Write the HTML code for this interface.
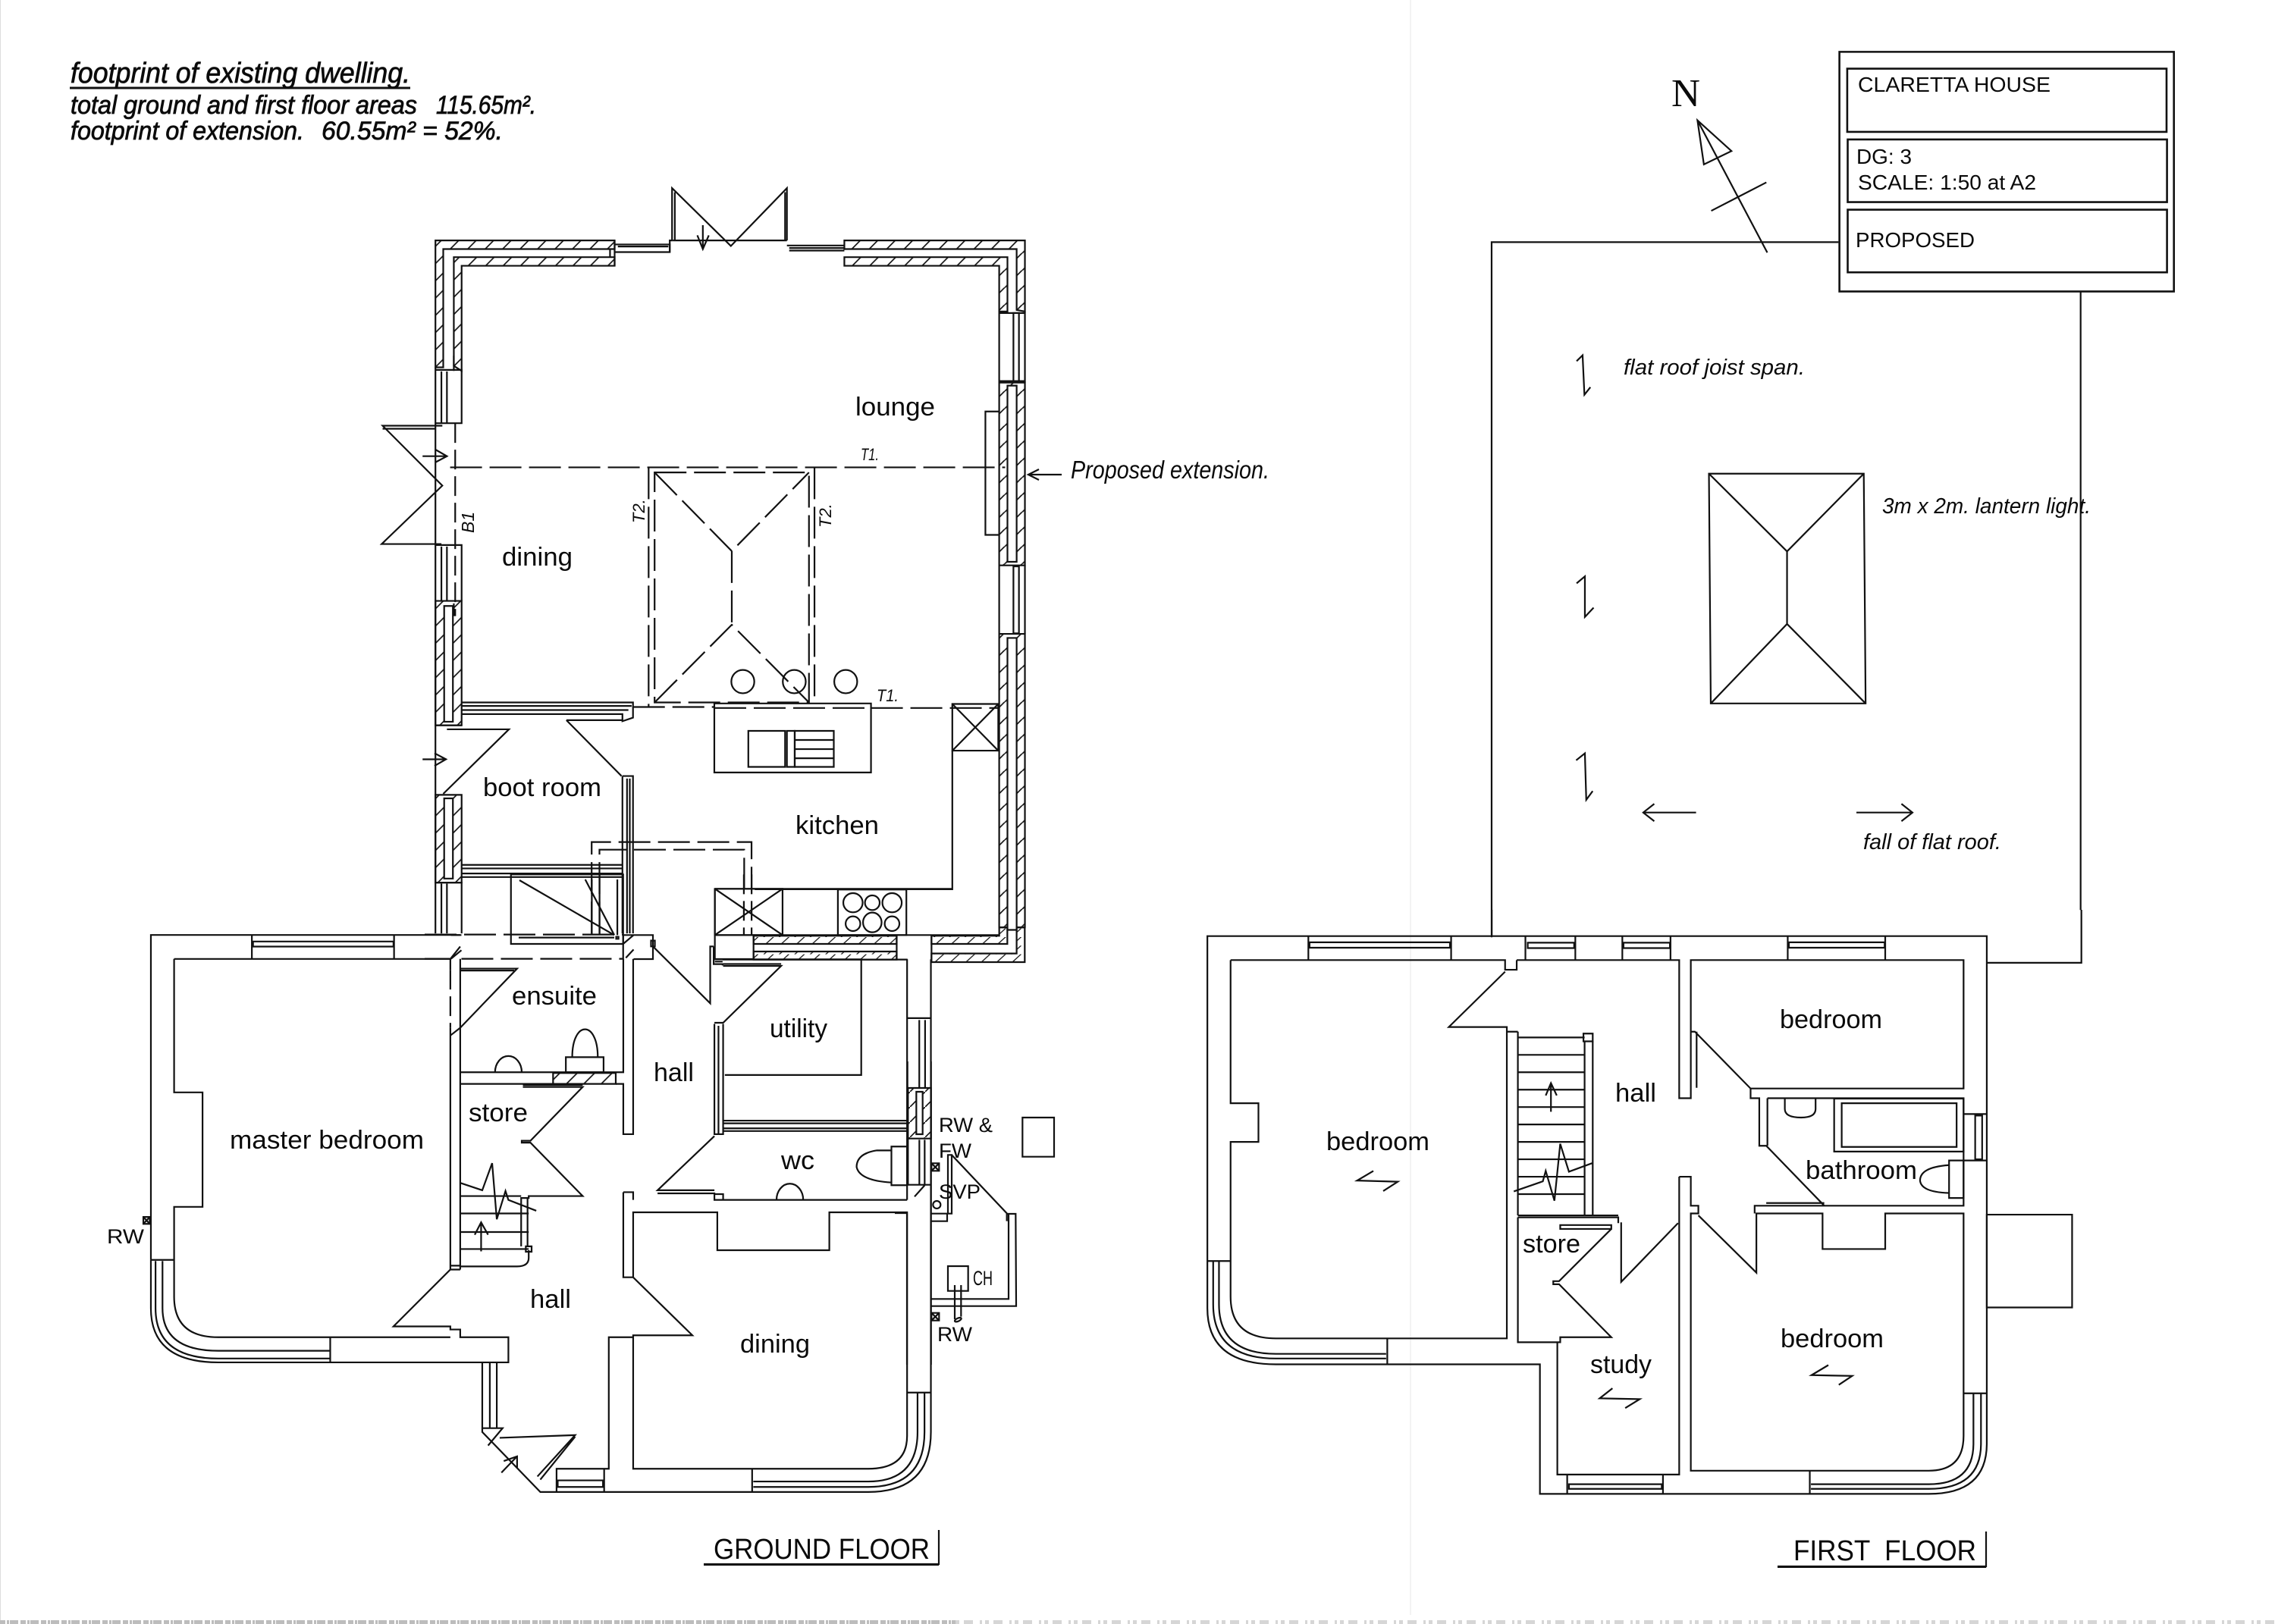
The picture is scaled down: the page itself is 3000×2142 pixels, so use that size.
<!DOCTYPE html>
<html><head><meta charset="utf-8"><title>Claretta House proposed plans</title>
<style>
html,body{margin:0;padding:0;background:#fff}
svg{display:block}
.d{fill:none;stroke:#111;stroke-width:2.2;stroke-linejoin:miter}
.d *{vector-effect:non-scaling-stroke}
.k{stroke-dasharray:26 9}
.k2{stroke-dasharray:42 10}
.wf{fill:#fff}
.hf1{fill:url(#h1)}
.hf6{fill:url(#h6)}
.hf2{fill:url(#h2)}
.hf8{fill:url(#h8)}
text{font-family:"Liberation Sans",sans-serif;fill:#0a0a0a;white-space:pre}
.r{font-size:34px}
.s{font-size:27px}
.t{font-size:28px}
.f{font-size:38px}
.hw{font-family:"Liberation Sans Narrow","Liberation Sans",sans-serif;font-style:italic;font-size:34px;stroke:#111;stroke-width:.8}
.hs{font-family:"Liberation Sans Narrow","Liberation Sans",sans-serif;font-style:italic;font-size:29px}
</style></head>
<body>
<svg xmlns="http://www.w3.org/2000/svg" width="3000" height="2142" viewBox="0 0 3000 2142">
<defs>
<pattern id="h1" patternUnits="userSpaceOnUse" width="38" height="34"><path d="M-4,38 L42,-4 M-42,38 L4,-4 M34,38 L80,-4" stroke="#111" stroke-width="2.6" fill="none"/></pattern>
<pattern id="h6" patternUnits="userSpaceOnUse" width="40" height="34"><path d="M-6,38 L24,-4 M34,38 L64,-4" stroke="#111" stroke-width="3" fill="none"/></pattern>
<pattern id="h2" patternUnits="userSpaceOnUse" width="30" height="30"><path d="M0,30 L20,0 M30,30 L50,0 M-30,30 L-10,0" stroke="#111" stroke-width="2.6" fill="none"/></pattern>
<pattern id="h8" patternUnits="userSpaceOnUse" width="60" height="60"><path d="M0,60 L60,0" stroke="#111" stroke-width="5" fill="none"/></pattern>
</defs>
<rect width="3000" height="2142" fill="#fff"/>
<line x1="1860" y1="0" x2="1860" y2="2130" stroke="#f3f3f3" stroke-width="2"/>
<line x1="0.5" y1="0" x2="0.5" y2="2142" stroke="#ddd" stroke-width="1"/>
<line x1="0" y1="2139.5" x2="1260" y2="2139.5" stroke="#bdbdbd" stroke-width="5" stroke-dasharray="7 2 3 1 11 3"/>
<line x1="1260" y1="2139.5" x2="3000" y2="2139.5" stroke="#d6d6d6" stroke-width="5" stroke-dasharray="5 6 12 9 3 4"/>

<!-- EXTENSION upper (zoom 1 space) -->
<g class="d" transform="translate(450 220) scale(.60587 .66964)">
<polygon class="hf1" points="205,145 595,145 595,162 222,162 222,395 205,395"/>
<polygon class="hf1" points="245,178 595,178 595,195 262,195 262,402 245,392"/>
<path d="M595,145V195M585,162V178"/>
<polygon class="hf1" points="1095,145 1488,145 1488,285 1470,282 1470,162 1095,162"/>
<polygon class="hf1" points="1095,178 1450,178 1450,285 1432,285 1432,195 1095,195"/>
<rect class="hf1" x="1432" y="425" width="56" height="360"/><rect class="wf" x="1450" y="431" width="20" height="347"/>
<rect class="hf1" x="1432" y="920" width="56" height="578"/><rect class="wf" x="1450" y="928" width="20" height="575"/>
<path d="M1432,285V425M1488,285V425M1432,785V920M1488,785V920M1432,288H1488M1432,422H1488"/>
<rect x="1463" y="288" width="12" height="134"/><rect x="1463" y="787" width="12" height="132"/>
<rect class="hf1" x="205" y="855" width="57" height="245"/><rect class="wf" x="224" y="865" width="19" height="228"/>
<rect class="hf1" x="205" y="1237" width="57" height="173"/><rect class="wf" x="224" y="1244" width="19" height="158"/>
<path d="M205,400H262V505H205ZM205,395V1510M218,403V505M230,403V505"/>
<path d="M205,745H262V855M218,748V855M230,748V855"/>
<path d="M205,1410H262V1510M218,1412V1510M230,1412V1510M245,372V402"/>
<!-- bifold left -->
<path d="M220,510H90L220,628L88,743H218M90,516H205M245,885V860"/>
<path d="M248,505V885" class="k"/>
<path d="M177,570H230M205,557L230,570L205,582"/>
<!-- bifold top -->
<path d="M715,168V145H720V42L848,156L970,42V145M726,145V50M966,145V50M722,145H970"/>
<path d="M787,115V160M775,135L787,162L800,135"/>
<path d="M595,153H715V168H595M602,157H712M970,155H1095M975,165H1095M975,160H1095"/>
<!-- lounge chimney -->
<path d="M1432,482H1402V725H1432"/>
<!-- T1 -->
<path d="M237,592H1445" class="k2"/>
<!-- Lantern -->
<path d="M682,602H1018V1055H682Z" class="k2"/>
<path d="M669,592V1063M1030,592V1063" class="k2"/>
<path d="M682,602L850,757L1018,602M850,757V902M682,1055L850,902L1018,1055" class="k2"/>
<ellipse cx="874" cy="1014" rx="25" ry="23"/><ellipse cx="986" cy="1014" rx="25" ry="23"/><ellipse cx="1098" cy="1014" rx="25" ry="23"/>
<path d="M635,1064H812M1153,1066H1430" class="k2"/>
<!-- Island -->
<rect x="812" y="1057" width="341" height="136" fill="#fff"/>
<rect x="886" y="1111" width="80" height="71"/><rect x="970" y="1111" width="17" height="71"/><rect x="987" y="1111" width="85" height="71"/>
<path d="M987,1129H1072M987,1147H1072M987,1165H1072"/>
<path d="M812,1066H1153" class="k2"/>
<!-- kitchen -->
<rect x="1330" y="1058" width="100" height="92"/><path d="M1330,1058L1430,1150M1430,1058L1330,1150M1330,1150V1423H900"/>
<!-- boot room -->
<path d="M262,1055H635V1085L612,1092V1078H262M262,1062H632M262,1070H625"/>
<path d="M205,1100H262M230,1108H365L222,1235M490,1090H612M490,1090L610,1200"/>
<path d="M177,1167H228M203,1155L228,1167L203,1180"/>
<path d="M612,1200H635V1510M612,1200V1510M622,1205V1510M628,1205V1510"/>
<path d="M262,1375H612M262,1382H612M262,1392H612M262,1399H612"/>
<path d="M545,1510V1330H893V1423M562,1510V1345H877V1423" class="k2"/>
</g>

<!-- Junction (zoom 6 space) -->
<g class="d" transform="translate(560 1100) scale(.5102 .3333)">
<path d="M223,160H513V435H223Z"/>
<path d="M245,183L490,400M415,180L490,400M243,410H490"/>
<rect x="495" y="407" width="6" height="8"/>
<path d="M498,180V400"/>
<path d="M432,180V400M452,160V400" />
<path d="M825,160V400M845,160V400" class="k"/>
<path d="M750,217H1365M750,217V400"/>
<rect x="750" y="217" width="175" height="183"/><path d="M750,217L925,400M925,217L750,400"/>
<rect x="1068" y="220" width="177" height="180"/>
<ellipse cx="1107" cy="272" rx="25" ry="38"/><ellipse cx="1157" cy="272" rx="19" ry="29"/><ellipse cx="1208" cy="272" rx="25" ry="38"/>
<ellipse cx="1107" cy="355" rx="19" ry="29"/><ellipse cx="1157" cy="350" rx="24" ry="39"/><ellipse cx="1208" cy="355" rx="19" ry="29"/>
<path d="M750,400H1485"/>
<polygon class="hf6" points="1485,370 1506,370 1506,435 1310,435 1310,403 1485,403"/>
<polygon class="hf6" points="1530,370 1551,370 1551,507 1310,507 1310,473 1530,473"/>
<rect class="hf6" x="850" y="403" width="370" height="32"/>
<rect class="hf6" x="850" y="465" width="370" height="32"/>
<path d="M850,403V495H750V400M1220,403V497M1310,403V497"/>
<path d="M513,400H590V495H540M513,400V497M513,435L540,400M520,490L540,457"/>
<rect x="585" y="422" width="10" height="23"/>
<path d="M590,445L738,670V445H747M747,445V515H770V520M750,505H770"/>
<path d="M770,497H1248"/>
<path d="M0,398H513M95,494H513" class="k2"/>
<path d="M0,494H65M68,494L95,460M68,400L95,400"/>
</g>

<!-- GROUND FLOOR main (zoom 2 space) -->
<g class="d" transform="translate(150 1200) scale(.7653 .5102)">
<path d="M597,65H64V905M238,65V127M483,65V127"/>
<rect x="240" y="82" width="242" height="13"/>
<path d="M64,905V1030Q64,1170 180,1170H680V1105H597V1085H580V1077H482L580,930H597"/>
<path d="M64,905H104M104,127H580V155M104,127V472H153V768H104V1000Q104,1105 180,1105H580"/>
<path d="M72,908V1030Q72,1160 180,1160H372M84,908V1030Q84,1140 180,1140H372M373,1105V1170"/>
<path d="M580,155V305" class="k"/>
<path d="M580,305V930M597,127V930M580,930V920H597"/>
<path d="M580,127L597,95M580,325L597,305"/>
<!-- ensuite -->
<path d="M597,152H695L597,305M597,157H690"/>
<path d="M597,420H878V127M895,127V580H878V450H865M597,450H757"/>
<rect class="hf2" x="757" y="422" width="108" height="28"/>
<path d="M657,420A23,42 0 0 1 703,420"/>
<rect x="779" y="381" width="65" height="39"/>
<path d="M790,381C790,285 834,285 834,381"/>
<!-- store/stairs -->
<path d="M705,453H808M705,458H808L718,597H703V602H718L808,740H715V745H702V870"/>
<path d="M597,740H702M597,785H715M597,833H715M597,877H715"/>
<path d="M713,745V870M597,922H695Q715,922 715,900V880"/>
<rect x="710" y="870" width="10" height="14"/>
<path d="M633,883V808M622,840L633,808L645,840"/>
<path d="M597,706L635,725L652,655L660,800L675,727L680,750L728,778"/>
<!-- hall right -->
<path d="M1035,128H1288M1288,128V427H1053"/>
<path d="M1050,145H1150L1050,292H1035M1050,140H1150"/>
<path d="M1035,295V580H1050V295M1042,300V578"/>
<path d="M1050,545H1367M1050,552H1367M1050,565H1367M1050,572H1367"/>
<path d="M1035,585L937,725H1035M937,733H1035V750H1050V735H1035M1050,750H1367M1367,128V750"/>
<path d="M1142,750A23,42 0 0 1 1188,750"/>
<rect x="1340" y="612" width="27" height="100"/>
<path d="M1340,622H1315Q1280,630 1280,665Q1285,700 1340,705"/>
<!-- utility-side window -->
<path d="M1367,280H1408M1388,285V460M1398,285V460"/>
<!-- dining -->
<path d="M878,730H895V750M878,730V950H895L997,1100H895V1105H853V1445H763V1505M895,950V782H1040V880H1233V782H1367V1360Q1367,1445 1300,1445H895V1105"/>
<rect x="765" y="1475" width="78" height="17"/><path d="M845,1445V1505"/>
<path d="M1100,1445V1505"/>
<path d="M1408,128V1350Q1408,1505 1300,1505H735L635,1350V1170"/>
<path d="M1367,1248H1408M1102,1478H1300Q1385,1478 1385,1350V1250M1102,1492H1300Q1397,1492 1397,1350V1250"/>
<path d="M648,1172V1338M660,1172V1338M635,1340H670L645,1385M665,1365L795,1358L730,1465M735,1473L795,1362"/>
<path d="M668,1455L695,1413M672,1425L695,1413L695,1442"/>
<rect x="51" y="794" width="11" height="18"/><path d="M51,794L62,812M62,794L51,812"/>
</g>

<!-- utility side / external (zoom 8 space) -->
<g class="d" transform="translate(1180 1400) scale(.33333)">
<path d="M50,0V105M143,0V1200"/>
<rect class="hf8" x="52" y="105" width="91" height="200"/><rect class="wf" x="85" y="120" width="25" height="168"/>
<path d="M52,305V488H143M97,310V485M118,310V485M78,535L118,490M48,600H0M48,600V1200"/>
<rect x="145" y="403" width="30" height="30"/><path d="M145,403L175,433M175,403L145,433"/>
<rect x="145" y="995" width="30" height="30"/><path d="M145,995L175,1025M175,995L145,1025"/>
<circle cx="166" cy="567" r="15"/>
<path d="M210,370H225V602H210ZM143,602H210M207,602V632H143"/>
<path d="M225,370L445,603H478L480,968H143M450,603V940H143M443,603V632"/>
<rect x="210" y="810" width="80" height="98"/>
<path d="M237,885V1020M262,885V1010"/>
<ellipse cx="250" cy="1022" rx="14" ry="6" transform="rotate(-25 250 1022)"/>
<rect x="505" y="222" width="125" height="155"/>
</g>

<!-- FIRST FLOOR (zoom 3 space) -->
<g class="d" transform="translate(1560 1200) scale(.7653 .5102)">
<path d="M42,68H1385V1380Q1385,1510 1285,1510H615V1175H160Q42,1175 42,1030Z"/>
<path d="M532,0V68M1385,137H1548V0"/>
<path d="M216,68V130M462,68V130M590,68V130M676,68V130M757,68V130M840,68V130M1042,68V130M1210,68V130"/>
<rect x="218" y="84" width="242" height="14"/><rect x="594" y="85" width="80" height="14"/><rect x="759" y="85" width="80" height="14"/><rect x="1044" y="84" width="165" height="14"/>
<path d="M82,130H555V155H575V130M555,160L458,303H558V315H577M558,315V1108H160Q82,1108 82,1000V600H130V500H82V130"/>
<path d="M575,130H855V487H875V130H1345V462H978L882,315H875V462M885,315V460"/>
<path d="M42,908H82M352,1108V1175M52,910V1020Q52,1160 160,1160H350M62,910V1020Q62,1148 160,1148H350"/>
<!-- stairs -->
<path d="M577,315V790M577,330H692M577,375H692M577,420H692M577,465H692M577,510H692M577,555H692M577,600H692M577,645H692M577,690H692M577,735H692"/>
<rect x="690" y="320" width="16" height="20"/>
<path d="M692,340V790M706,340V790M577,790H750"/>
<path d="M634,522V448M625,480L634,448L644,480"/>
<path d="M705,655L665,677L650,605L640,752L625,675L620,702L570,728"/>
<!-- store -->
<path d="M577,795H750V810M650,815H738V825H650ZM738,825L648,960H638V968H648L738,1105H650V1118H577V795"/>
<path d="M755,808V962L853,810M855,690V1460H645V1118M855,690H875V765H888V785H875V1450H1285Q1345,1450 1345,1360V785H1210V877H1102V785H988V938L888,790"/>
<path d="M985,785V765H1105L1005,610H993V487H978V462M1007,487H1345V765H1000M1345,762"/>
<path d="M1007,487V610M1005,758H1105"/>
<rect x="1122" y="488" width="223" height="137"/><rect x="1135" y="500" width="198" height="113"/>
<path d="M1037,487V515Q1037,537 1065,537Q1090,537 1090,515V487"/>
<path d="M1345,528H1385M1345,648H1385"/><rect x="1365" y="532" width="12" height="113"/>
<rect x="1320" y="648" width="25" height="97"/><path d="M1320,660Q1270,665 1270,700Q1272,730 1320,732"/>
<!-- bottom windows -->
<path d="M662,1460V1510M827,1460V1510"/><rect x="665" y="1485" width="160" height="12"/>
<path d="M1080,1450V1510M1345,1250H1385M1082,1497H1285Q1375,1497 1375,1380V1250M1082,1485H1285Q1362,1485 1362,1380V1250"/>
<rect x="1385" y="788" width="147" height="240"/>
<path d="M328,675L300,700L370,703L345,727M1112,1177L1083,1203L1153,1205L1130,1228M740,1237L718,1263L787,1265L762,1288"/>
</g>

<!-- ROOF / title (zoom 5 space) -->
<g class="d" transform="translate(1950 50) scale(.60587 .76531)">
<path d="M28,1550V352H783M1310,437V1503"/>
<path d="M501,751H838L842,1147H505Z"/>
<path d="M501,751L671,885L838,751M671,885V1010M505,1147L671,1010L842,1147"/>
<path d="M476,142L550,195L490,218ZM476,142L628,370M506,298L626,249"/>
<path d="M213,557L226,547L230,615L243,602M213,940L231,928L231,998L250,982M212,1245L231,1233L234,1313L248,1298"/>
<path d="M473,1335H360M382,1320L358,1335L382,1350M822,1335H942M920,1320L944,1335L920,1350"/>
<g style="stroke-width:2.6">
<rect x="785" y="24" width="728" height="413" fill="#fff"/>
<rect x="802" y="53" width="695" height="109"/>
<rect x="803" y="175" width="695" height="108"/>
<rect x="803" y="296" width="695" height="108"/>
</g>
</g>

<!-- proposed extension arrow -->
<g class="d">
<path d="M1400,626H1358M1370,619L1356,626L1370,633"/>
<path d="M92,116H541" style="stroke-width:3"/>
<path d="M928,2063H1238V2018" /><path d="M928,2063.5H1238" style="stroke-width:3"/>
<path d="M2344,2066H2619V2020"/><path d="M2344,2066.5H2619" style="stroke-width:3"/>
</g>

<!-- Room labels -->
<text class="r" x="1128" y="548" textLength="105" lengthAdjust="spacingAndGlyphs">lounge</text>
<text class="r" x="662" y="746" textLength="93" lengthAdjust="spacingAndGlyphs">dining</text>
<text class="r" x="637" y="1050" textLength="156" lengthAdjust="spacingAndGlyphs">boot room</text>
<text class="r" x="1049" y="1100" textLength="110" lengthAdjust="spacingAndGlyphs">kitchen</text>
<text class="r" x="675" y="1325" textLength="112" lengthAdjust="spacingAndGlyphs">ensuite</text>
<text class="r" x="1015" y="1368" textLength="76" lengthAdjust="spacingAndGlyphs">utility</text>
<text class="r" x="862" y="1426" textLength="53" lengthAdjust="spacingAndGlyphs">hall</text>
<text class="r" x="618" y="1479" textLength="78" lengthAdjust="spacingAndGlyphs">store</text>
<text class="r" x="303" y="1515" textLength="256" lengthAdjust="spacingAndGlyphs">master bedroom</text>
<text class="r" x="1030" y="1542" textLength="44" lengthAdjust="spacingAndGlyphs">wc</text>
<text class="r" x="699" y="1725" textLength="54" lengthAdjust="spacingAndGlyphs">hall</text>
<text class="r" x="976" y="1784" textLength="92" lengthAdjust="spacingAndGlyphs">dining</text>
<text class="r" x="1749" y="1517" textLength="136" lengthAdjust="spacingAndGlyphs">bedroom</text>
<text class="r" x="2130" y="1453" textLength="54" lengthAdjust="spacingAndGlyphs">hall</text>
<text class="r" x="2347" y="1356" textLength="135" lengthAdjust="spacingAndGlyphs">bedroom</text>
<text class="r" x="2381" y="1555" textLength="147" lengthAdjust="spacingAndGlyphs">bathroom</text>
<text class="r" x="2008" y="1652" textLength="76" lengthAdjust="spacingAndGlyphs">store</text>
<text class="r" x="2097" y="1811" textLength="81" lengthAdjust="spacingAndGlyphs">study</text>
<text class="r" x="2348" y="1777" textLength="136" lengthAdjust="spacingAndGlyphs">bedroom</text>

<!-- small labels -->
<text class="s" x="1238" y="1493" textLength="71" lengthAdjust="spacingAndGlyphs">RW &amp;</text>
<text class="s" x="1238" y="1527" textLength="43" lengthAdjust="spacingAndGlyphs">FW</text>
<text class="s" x="1238" y="1581" textLength="55" lengthAdjust="spacingAndGlyphs">SVP</text>
<text class="s" x="1236" y="1769" textLength="46" lengthAdjust="spacingAndGlyphs">RW</text>
<text class="s" x="141" y="1640" textLength="49" lengthAdjust="spacingAndGlyphs">RW</text>
<text x="1283" y="1695" font-size="27" textLength="26" lengthAdjust="spacingAndGlyphs">CH</text>

<text class="hs" x="1135" y="607" style="font-size:22px" textLength="24" lengthAdjust="spacingAndGlyphs">T1.</text>
<text class="hs" x="1156" y="925" style="font-size:22px" textLength="29" lengthAdjust="spacingAndGlyphs">T1.</text>
<text class="hs" style="font-size:22px" transform="translate(850 690) rotate(-90)">T2.</text>
<text class="hs" style="font-size:22px" transform="translate(1096 696) rotate(-90)">T2.</text>
<text class="hs" style="font-size:23px" transform="translate(625 703) rotate(-90)">B1</text>

<!-- handwriting -->
<text class="hw" x="93" y="109" style="font-size:38px" textLength="448" lengthAdjust="spacingAndGlyphs">footprint of existing dwelling.</text>
<text class="hw" x="93" y="150" textLength="457" lengthAdjust="spacingAndGlyphs">total ground and first floor areas</text>
<text class="hw" x="575" y="150" textLength="132" lengthAdjust="spacingAndGlyphs">115.65m².</text>
<text class="hw" x="93" y="184" textLength="308" lengthAdjust="spacingAndGlyphs">footprint of extension.</text>
<text class="hw" x="424" y="184" textLength="239" lengthAdjust="spacingAndGlyphs">60.55m² = 52%.</text>
<text class="hs" x="1412" y="631" style="font-size:33px" textLength="262" lengthAdjust="spacingAndGlyphs">Proposed extension.</text>
<text class="hs" x="2141" y="494" textLength="239" lengthAdjust="spacingAndGlyphs">flat roof joist span.</text>
<text class="hs" x="2482" y="677" textLength="275" lengthAdjust="spacingAndGlyphs">3m x 2m. lantern light.</text>
<text class="hs" x="2457" y="1120" textLength="182" lengthAdjust="spacingAndGlyphs">fall of flat roof.</text>

<!-- title box -->
<text class="t" x="2450" y="121" textLength="254" lengthAdjust="spacingAndGlyphs">CLARETTA HOUSE</text>
<text class="t" x="2448" y="216" textLength="73" lengthAdjust="spacingAndGlyphs">DG: 3</text>
<text class="t" x="2450" y="250" textLength="235" lengthAdjust="spacingAndGlyphs">SCALE: 1:50 at A2</text>
<text class="t" x="2447" y="326" textLength="157" lengthAdjust="spacingAndGlyphs">PROPOSED</text>
<text x="2204" y="140" style="font-family:'Liberation Serif',serif;font-size:52px" textLength="38" lengthAdjust="spacingAndGlyphs">N</text>

<text class="f" x="941" y="2056" textLength="285" lengthAdjust="spacingAndGlyphs">GROUND FLOOR</text>
<text class="f" x="2365" y="2058" textLength="241" lengthAdjust="spacingAndGlyphs">FIRST  FLOOR</text>
</svg>
</body></html>
